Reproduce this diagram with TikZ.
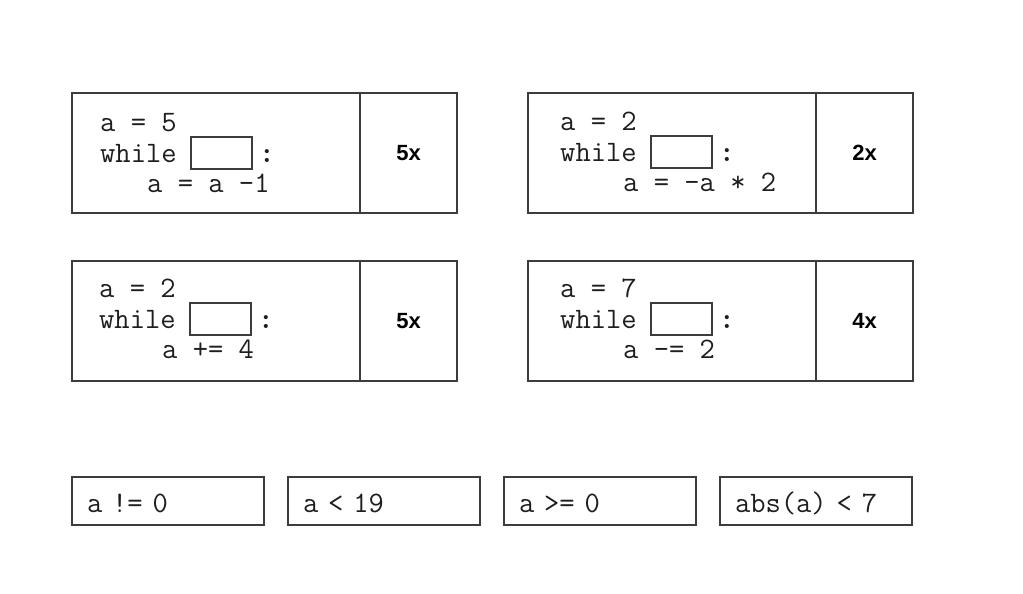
\documentclass[tikz,border=0pt]{standalone}
\usepackage{fontspec}
\setmainfont{Liberation Sans}
\usetikzlibrary{positioning}
\definecolor{framegray}{HTML}{3C3C3C}
\definecolor{codeink}{HTML}{1E1E1E}

\begin{document}
\begin{tikzpicture}[x=1pt,y=-1pt,
    cell/.style={draw=framegray, line width=1.6pt, inner sep=0pt, outer sep=0pt, minimum height=120pt},
    codecell/.style={cell, minimum width=288pt},
    anscell/.style={cell, minimum width=97pt, font=\fontsize{22}{24}\selectfont\bfseries},
    code/.style={inner sep=0pt, anchor=base west, text=codeink, font=\fontsize{29.7}{34}\selectfont\ttfamily},
    gap/.style={draw=framegray, line width=1.6pt, inner sep=0pt, outer sep=0pt, minimum width=61pt, minimum height=32pt, anchor=north west},
    choice/.style={draw=framegray, line width=1.6pt, outer sep=0pt, inner xsep=15pt, inner ysep=9pt, text width=162pt, align=left,
      text height=26pt, text depth=4pt, anchor=north west, text=codeink, font=\fontsize{29.7}{34}\selectfont\ttfamily}]
    \useasboundingbox (0,0) rectangle (1023,594);

    % code cards with the missing condition
    \node[codecell] (code1) at (216,153) {};
    \node[anscell, right=0pt of code1] (ans1) {5x};
    \node[codecell] (code2) at (672,153) {};
    \node[anscell, right=0pt of code2] (ans2) {2x};
    \node[codecell] (code3) at (216,321) {};
    \node[anscell, right=0pt of code3] (ans3) {5x};
    \node[codecell] (code4) at (672,321) {};
    \node[anscell, right=0pt of code4] (ans4) {4x};

    \foreach \n/\x/\y/\first/\last/\ind in {1/100/131/{a = 5}/{a = a -1}/47,
        2/560/130/{a = 2}/{a = -a * 2}/63,
        3/99/297/{a = 2}/{a += 4}/63,
        4/560/297/{a = 7}/{a -= 2}/63} {
      \node[code] (init\n) at (\x,\y) {\first};
      \node[code] (while\n) at (\x,\y+31) {while};
      \node[gap] (blank\n) at (\x+91,\y+6) {};
      \node[code] (colon\n) at (\x+159,\y+31) {\textbf{:}};
      \node[code] (step\n) at (\x+\ind,\y+61) {\last};
    }

    % conditions to choose from
    \node[choice] (cond1) at (72,477) {a != 0};
    \node[choice] (cond2) at (288,477) {a < 19};
    \node[choice] (cond3) at (504,477) {a >= 0};
    \node[choice] (cond4) at (720,477) {abs(a) < 7};
\end{tikzpicture}
\end{document}
